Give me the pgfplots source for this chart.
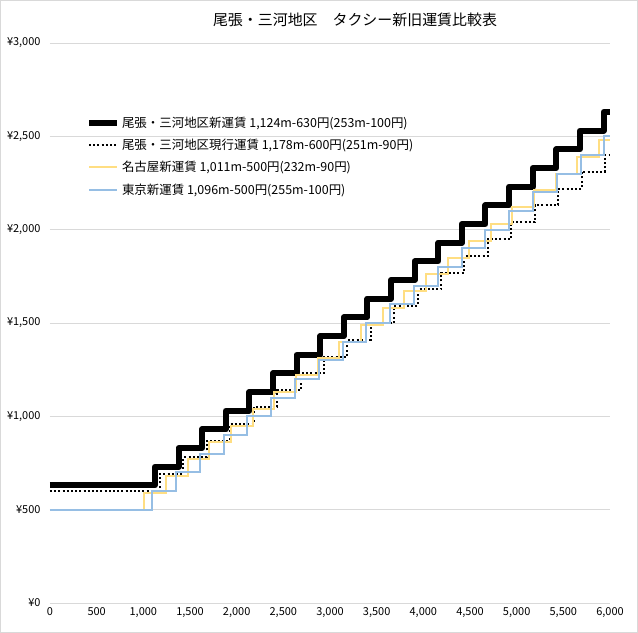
\documentclass[border=0pt]{standalone}
\usepackage{pgfplots}
\pgfplotsset{compat=1.18}
\usepackage{fontspec}
\setmainfont{Noto Sans CJK JP}
\definecolor{gridgray}{RGB}{217,217,217}
\definecolor{fareyellow}{RGB}{255,222,130}
\definecolor{fareblue}{RGB}{150,190,228}

\begin{document}
\begin{tikzpicture}
\useasboundingbox (-50bp,-30bp) rectangle (588bp,603bp);
\draw[gridgray,line width=0.75bp] (-49.6bp,-29.6bp) rectangle (587.6bp,602.6bp);
\begin{axis}[
    scale only axis,
    width=560bp, height=560bp,
    xmin=0, xmax=6000,
    ymin=0, ymax=3000,
    xtick={0,500,...,6000},
    ytick={0,500,...,3000},
    ymajorgrids,
    major grid style={draw=gridgray,line width=0.75bp},
    axis line style={draw=none},
    tick style={draw=none},
    /pgf/number format/.cd, 1000 sep={,}, assume math mode=true,
    /pgfplots/.cd,
    yticklabel={¥\pgfmathprintnumber{\tick}},
    ticklabel style={font=\fontsize{11}{12}\selectfont},
    yticklabel style={xshift=-6bp},
    xticklabel style={yshift=-1.5bp},
    legend style={at={(rel axis cs:0.064,0.872)},anchor=north west,
        draw=none,fill=none,inner sep=0pt,
        font=\fontsize{12.5}{14}\selectfont,row sep=6.3bp},
    legend cell align=left,
    legend image code/.code={\draw[#1] (0bp,0bp) -- (28bp,0bp);},
]
% 尾張・三河地区新運賃 1,124m 630円, 253m毎 100円
\addplot[const plot, black, line width=6bp, line join=round] coordinates {
 (0,630) (1124,730) (1377,830) (1630,930) (1883,1030) (2136,1130)
 (2389,1230) (2642,1330) (2895,1430) (3148,1530) (3401,1630)
 (3654,1730) (3907,1830) (4160,1930) (4413,2030) (4666,2130)
 (4919,2230) (5172,2330) (5425,2430) (5678,2530) (5931,2630) (6000,2630)};
\addlegendentry{尾張・三河地区新運賃 1,124m-630円(253m-100円)}
% 尾張・三河地区現行運賃 1,178m 600円, 251m毎 90円
\addplot[const plot, black, line width=2bp, dash pattern=on 2bp off 2.2bp] coordinates {
 (0,600) (1178,690) (1429,780) (1680,870) (1931,960) (2182,1050)
 (2433,1140) (2684,1230) (2935,1320) (3186,1410) (3437,1500)
 (3688,1590) (3939,1680) (4190,1770) (4441,1860) (4692,1950)
 (4943,2040) (5194,2130) (5445,2220) (5696,2310) (5947,2400) (6000,2400)};
\addlegendentry{尾張・三河地区現行運賃 1,178m-600円(251m-90円)}
% 名古屋新運賃 1,011m 500円, 232m毎 90円
\addplot[const plot, fareyellow, line width=2bp] coordinates {
 (0,500) (1011,590) (1243,680) (1475,770) (1707,860) (1939,950)
 (2171,1040) (2403,1130) (2635,1220) (2867,1310) (3099,1400)
 (3331,1490) (3563,1580) (3795,1670) (4027,1760) (4259,1850)
 (4491,1940) (4723,2030) (4955,2120) (5187,2210) (5419,2300)
 (5651,2390) (5883,2480) (6000,2480)};
\addlegendentry{名古屋新運賃 1,011m-500円(232m-90円)}
% 東京新運賃 1,096m 500円, 255m毎 100円
\addplot[const plot, fareblue, line width=2bp] coordinates {
 (0,500) (1096,600) (1351,700) (1606,800) (1861,900) (2116,1000)
 (2371,1100) (2626,1200) (2881,1300) (3136,1400) (3391,1500)
 (3646,1600) (3901,1700) (4156,1800) (4411,1900) (4666,2000)
 (4921,2100) (5176,2200) (5431,2300) (5686,2400) (5941,2500) (6000,2500)};
\addlegendentry{東京新運賃 1,096m-500円(255m-100円)}
\end{axis}
\node[font=\fontsize{15}{17}\selectfont] at (305bp,583bp) {尾張・三河地区　タクシー新旧運賃比較表};
\end{tikzpicture}
\end{document}
